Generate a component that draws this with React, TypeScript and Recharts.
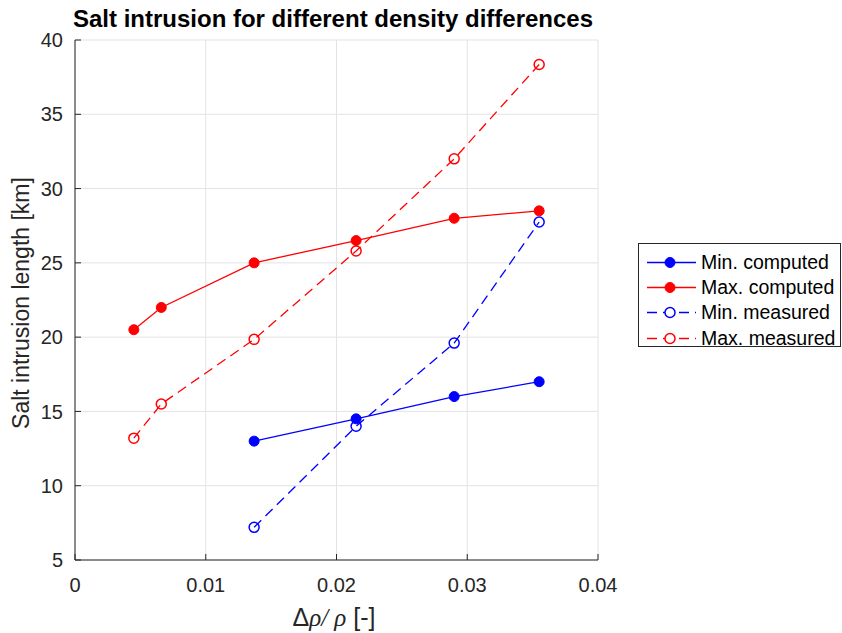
import React from "react";
import { CartesianGrid, Line, LineChart, XAxis, YAxis } from "recharts";

// density difference (x) for the six runs
const xValues = [0.0045, 0.0066, 0.0137, 0.0215, 0.029, 0.0355];
const maxComputed = [20.5, 22, 25, 26.5, 28, 28.5];
const maxMeasured = [13.2, 15.5, 19.85, 25.8, 32, 38.35];
// minimum series only start at the third run
const minX = [0.0137, 0.0215, 0.029, 0.0355];
const minComputed = [13, 14.5, 16, 17];
const minMeasured = [7.2, 14, 19.6, 27.75];

const xTicks = [0, 0.01, 0.02, 0.03, 0.04];
const yTicks = [5, 10, 15, 20, 25, 30, 35, 40];

const toPoints = (xs: number[], ys: number[]) => xs.map((x, i) => ({ x, y: ys[i] }));

const RED = "#ff0000";
const BLUE = "#0000ff";
const AXIS = "#262626";
const FONT = '"Liberation Sans", Arial, sans-serif';
const SERIF = '"Liberation Serif", "DejaVu Serif", serif';
const DASH = "10 6";

const series = [
  { name: "Min. computed", color: BLUE, filled: true, data: toPoints(minX, minComputed) },
  { name: "Max. computed", color: RED, filled: true, data: toPoints(xValues, maxComputed) },
  { name: "Min. measured", color: BLUE, filled: false, data: toPoints(minX, minMeasured) },
  { name: "Max. measured", color: RED, filled: false, data: toPoints(xValues, maxMeasured) },
];

function LegendBox() {
  return (
    <div
      style={{
        position: "absolute",
        left: 638,
        top: 243,
        width: 201,
        height: 102,
        border: `1px solid ${AXIS}`,
        background: "#fff",
        fontFamily: FONT,
        fontSize: 19.5,
        color: "#000",
      }}
    >
      {series.map((s, i) => (
        <div key={s.name} style={{ position: "absolute", left: 0, top: 6 + i * 25.2, height: 25, width: 201 }}>
          <svg width={60} height={25} style={{ position: "absolute", left: 0, top: 0 }}>
            <line
              x1={8}
              x2={57}
              y1={12.5}
              y2={12.5}
              stroke={s.color}
              strokeWidth={1.3}
              strokeDasharray={s.filled ? undefined : DASH}
            />
            <circle
              cx={31}
              cy={12.5}
              r={5}
              fill={s.filled ? s.color : "#fff"}
              stroke={s.color}
              strokeWidth={s.filled ? 1 : 1.5}
            />
          </svg>
          <span style={{ position: "absolute", left: 62, top: 0, lineHeight: "25px", whiteSpace: "nowrap" }}>
            {s.name}
          </span>
        </div>
      ))}
    </div>
  );
}

export default function App() {
  return (
    <div style={{ position: "absolute", left: 0, top: 0, width: 842, height: 633, background: "#fff" }}>
      <LineChart width={842} height={633} margin={{ top: 40, right: 244, bottom: 0, left: 0 }}>
        <CartesianGrid stroke="#e3e3e3" strokeWidth={1} />
        <XAxis
          dataKey="x"
          type="number"
          domain={[0, 0.04]}
          ticks={xTicks}
          allowDuplicatedCategory={false}
          height={73}
          stroke={AXIS}
          tickSize={-6}
          tickMargin={24}
          tick={{ fill: AXIS, fontSize: 20, fontFamily: FONT }}
          tickFormatter={(v: number) => (v === 0 ? "0" : v.toFixed(2))}
        />
        <YAxis
          type="number"
          domain={[5, 40]}
          ticks={yTicks}
          width={75}
          stroke={AXIS}
          tickSize={-6}
          tickMargin={18}
          tick={{ fill: AXIS, fontSize: 20, fontFamily: FONT }}
        />
        {series.map((s) => (
          <Line
            key={s.name}
            data={s.data}
            dataKey="y"
            name={s.name}
            type="linear"
            stroke={s.color}
            strokeWidth={1.3}
            strokeDasharray={s.filled ? undefined : DASH}
            dot={
              s.filled
                ? { r: 5, fill: s.color, stroke: s.color, strokeWidth: 1, strokeDasharray: "" }
                : { r: 5, fill: "none", stroke: s.color, strokeWidth: 1.5, strokeDasharray: "" }
            }
            activeDot={false}
            isAnimationActive={false}
          />
        ))}
      </LineChart>
      <LegendBox />
      <svg
        width={842}
        height={633}
        style={{ position: "absolute", left: 0, top: 0, pointerEvents: "none" }}
      >
        <text x={333} y={27} textAnchor="middle" fontFamily={FONT} fontWeight="bold" fontSize={24} fill="#000">
          Salt intrusion for different density differences
        </text>
        <text
          transform="translate(29,303) rotate(-90)"
          textAnchor="middle"
          fontFamily={FONT}
          fontSize={23}
          fill={AXIS}
        >
          Salt intrusion length [km]
        </text>
        <text x={334} y={626} textAnchor="middle" fontSize={25} fill={AXIS}>
          <tspan fontFamily={FONT}>Δ</tspan>
          <tspan fontFamily={SERIF} fontStyle="italic">ρ/ ρ</tspan>
          <tspan fontFamily={FONT}> [-]</tspan>
        </text>
      </svg>
    </div>
  );
}
